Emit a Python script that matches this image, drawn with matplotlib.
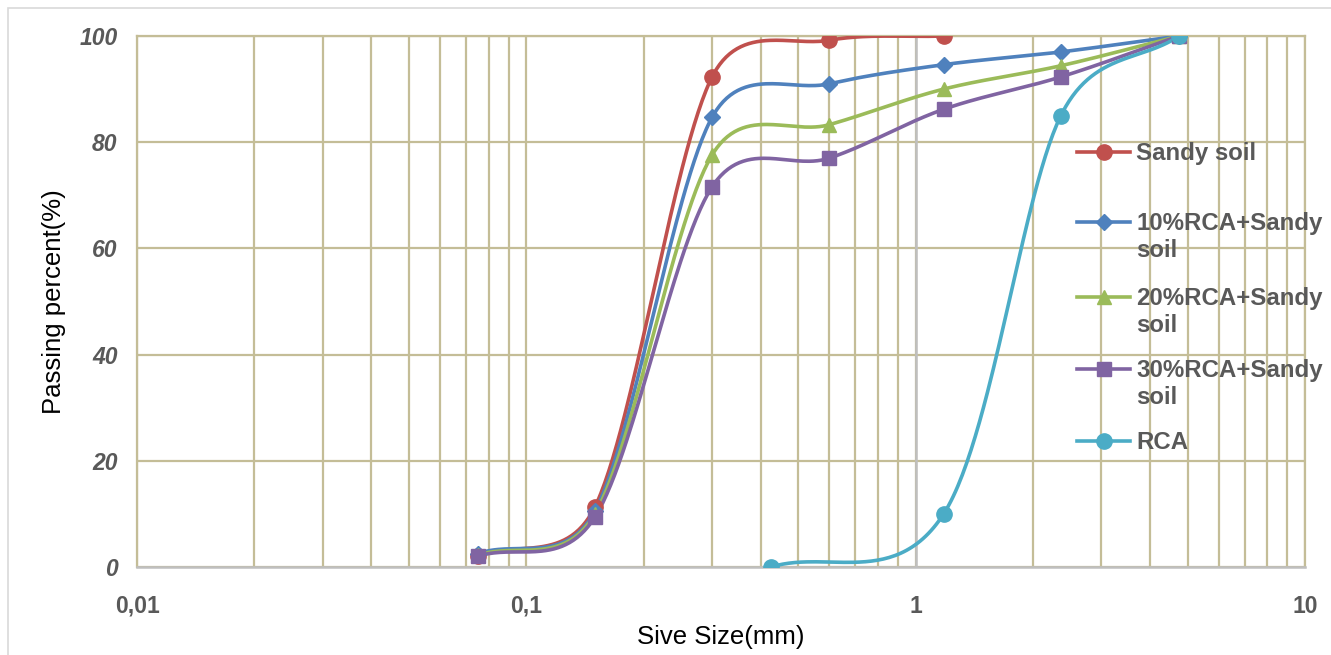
import matplotlib.pyplot as plt
import numpy as np
from matplotlib.lines import Line2D
from matplotlib.patches import Rectangle
from matplotlib.ticker import LogLocator, NullFormatter

plt.rcParams['font.family'] = ['Liberation Sans', 'DejaVu Sans']

sieve = [0.075, 0.15, 0.3, 0.6, 1.18, 2.36, 4.75]
sandy = [2.0, 11.3, 92.3, 99.2, 100.0]
rca10 = [2.5, 10.5, 84.7, 91.0, 94.6, 97.0, 100.0]
rca20 = [2.2, 10.0, 77.6, 83.3, 90.0, 94.4, 100.0]
rca30 = [2.0, 9.4, 71.6, 77.0, 86.2, 92.3, 100.0]
rca_sieve = [0.425, 1.18, 2.36, 4.75]
rca = [0.0, 10.0, 85.0, 100.0]

labels = ['Sandy soil', '10%RCA+Sandy\nsoil', '20%RCA+Sandy\nsoil',
          '30%RCA+Sandy\nsoil', 'RCA']
colors = ['#C0504D', '#4F81BD', '#9BBB59', '#8064A2', '#4BACC6']
markers = ['o', 'D', '^', 's', 'o']
msizes = [11, 8.5, 10.5, 10, 11]
grid_col = '#C4BD97'
W, H = 1331, 655
AX_W, AX_H = 1305 - 137, 567 - 36


def smooth(x, y, n=60):
    # Excel-style smoothed line, computed in screen space (log x)
    sx = AX_W / 3.0
    sy = AX_H / 100.0
    pts = np.column_stack([np.log10(np.asarray(x, float)) * sx,
                           np.asarray(y, float) * sy])
    # reflected end points
    pts = np.vstack([2 * pts[0] - pts[1], pts, 2 * pts[-1] - pts[-2]])
    t = np.linspace(0, 1, n)[:, None]
    out = []
    for i in range(len(pts) - 3):
        p0, p1, p2, p3 = pts[i], pts[i + 1], pts[i + 2], pts[i + 3]
        d12 = np.hypot(*(p2 - p1))
        t1 = (p2 - p0) / 6.0
        t2 = (p3 - p1) / 6.0
        # keep control arms within half of the segment
        l1, l2 = np.hypot(*t1), np.hypot(*t2)
        if l1 > d12 / 2:
            t1 = t1 * (d12 / 2) / l1
        if l2 > d12 / 2:
            t2 = t2 * (d12 / 2) / l2
        c1 = p1 + t1
        c2 = p2 - t2
        b = ((1 - t) ** 3 * p1 + 3 * (1 - t) ** 2 * t * c1
             + 3 * (1 - t) * t ** 2 * c2 + t ** 3 * p2)
        out.append(b)
    b = np.vstack(out)
    return 10 ** (b[:, 0] / sx), b[:, 1] / sy


fig = plt.figure(figsize=(W / 100, H / 100), dpi=100)
ax = fig.add_axes([137 / W, 1 - 567 / H, AX_W / W, AX_H / H])

series = [(sieve[:len(sandy)], sandy), (sieve, rca10), (sieve, rca20),
          (sieve, rca30), (rca_sieve, rca)]
for (xv, yv), c, m, ms in zip(series, colors, markers, msizes):
    sx, sy = smooth(xv, yv)
    ax.plot(sx, sy, color=c, lw=2.6, zorder=3, solid_capstyle='round')
    ax.plot(xv, yv, ls='none', marker=m, color=c, ms=ms, zorder=4)

ax.set_xscale('log')
ax.set_xlim(0.01, 10)
ax.set_ylim(0, 100)
ax.set_xticks([0.01, 0.1, 1, 10])
ax.set_xticklabels(['0,01', '0,1', '1', '10'])
ax.xaxis.set_minor_locator(LogLocator(base=10, subs=np.arange(2, 10)))
ax.xaxis.set_minor_formatter(NullFormatter())
ax.set_yticks([0, 20, 40, 60, 80, 100])
ax.grid(True, which='both', axis='x', color=grid_col, lw=1.6, zorder=1)
ax.grid(True, which='major', axis='y', color=grid_col, lw=1.6, zorder=1)
ax.axvline(1, color='#BFBFBF', lw=1.8, zorder=2)
for s in ['left', 'top', 'right']:
    ax.spines[s].set_color(grid_col)
    ax.spines[s].set_linewidth(1.6)
ax.spines['bottom'].set_color('#BFBFBF')
ax.spines['bottom'].set_linewidth(1.8)

ax.tick_params(axis='both', which='both', length=0)
ax.tick_params(axis='y', pad=14)
ax.tick_params(axis='x', pad=20)
for lab in ax.get_yticklabels():
    lab.set_fontsize(16.5)
    lab.set_fontweight('bold')
    lab.set_fontstyle('italic')
    lab.set_color('#595959')
for lab in ax.get_xticklabels():
    lab.set_fontsize(16.5)
    lab.set_fontweight('bold')
    lab.set_color('#595959')

ax.set_xlabel('Sive Size(mm)', fontsize=18.5, labelpad=5)
ax.set_ylabel('Passing percent(%)', fontsize=18.5)
ax.yaxis.set_label_coords(-0.061, 0.5)

# legend drawn by hand, Excel style: marker sits on the first text line
leg_y = [152, 222, 297, 369, 441]
for lab, c, m, ms, yy in zip(labels, colors, markers, msizes, leg_y):
    fy = 1 - yy / H
    fig.add_artist(Line2D([1077 / W, 1104 / W, 1130 / W], [fy, fy, fy],
                          color=c, lw=2.6, marker=m, ms=ms, markevery=[1]))
    for j, part in enumerate(lab.split('\n')):
        fig.text(1136 / W, 1 - (yy + 8 + 27 * j) / H, part, fontsize=17.3,
                 fontweight='bold', color='#595959', va='baseline', ha='left')

fig.add_artist(Rectangle((8 / W, -0.1), 1.2, 1 - 8 / H + 0.1,
                         transform=fig.transFigure, fill=False,
                         edgecolor='#D9D9D9', lw=1.2))

fig.savefig('out.png', dpi=100)
